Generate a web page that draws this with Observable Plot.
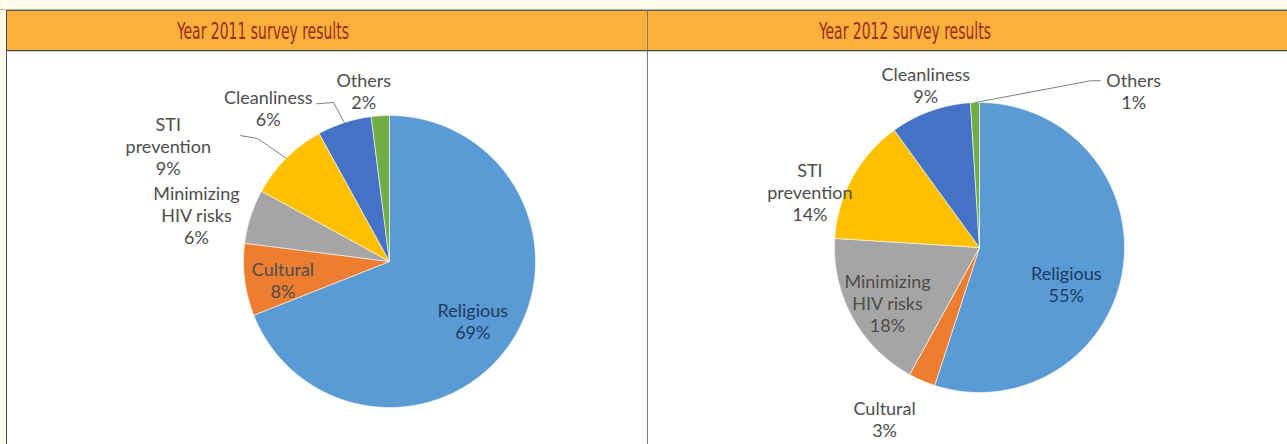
<!DOCTYPE html>
<html><head><meta charset="utf-8">
<script src="https://cdn.jsdelivr.net/npm/d3@7"></script>
<script src="https://cdn.jsdelivr.net/npm/@observablehq/plot@0.6"></script>
<style>
html,body{margin:0;padding:0}
body{width:1287px;height:444px;position:relative;overflow:hidden;background:#fffbeb;font-family:Lato,sans-serif}
#top{position:absolute;left:0;top:0;width:1287px;height:9px;border-bottom:1px solid #b8b6aa}
#hdr{position:absolute;left:6px;top:10px;width:1281px;height:39px;background:#fbb03c;border-top:1px solid #5a5a5a;border-bottom:1px solid #4a4a4a;border-left:1px solid #4a4a4a}
#bodyp{position:absolute;left:6px;top:51px;width:1281px;height:393px;background:#fff;border-left:1px solid #4a4a4a;border-top:1px solid #cfcfcf}
#divider{position:absolute;left:647px;top:10px;width:1px;height:434px;background:#7a7a7a}
.ttl{position:absolute;top:12px;height:39px;line-height:39px;color:#9b2b1e;font-family:"Liberation Sans Narrow","DejaVu Sans Condensed","Liberation Sans",sans-serif;font-size:23px;white-space:nowrap;transform-origin:0 50%}
.panel{position:absolute;top:52px}
</style></head>
<body>
<div id="top"></div>
<div id="hdr"></div>
<div id="bodyp"></div>
<div id="divider"></div>
<script>
// ---- data ----
const categories = ["Religious", "Cultural", "Minimizing HIV risks", "STI prevention", "Cleanliness", "Others"];
const labelNames = ["Religious", "Cultural", "Minimizing\nHIV risks", "STI\nprevention", "Cleanliness", "Others"];
const colors = ["#5b9bd5", "#ed7d31", "#a5a5a5", "#ffc000", "#4472c4", "#70ad47"];
const values2011 = [69, 8, 6, 9, 6, 2];
const values2012 = [55, 3, 18, 14, 9, 1];
const titles = ["Year 2011 survey results", "Year 2012 survey results"];

// ---- layout (placement only) ----
const layouts = [
  {left: 7, width: 640, height: 392, cx: 382, cy: 209, r: 146, titleX: 263,
   labels: [[125.4, 0.70], [260.4, 0.74], [283.5, 1.36], [297.6, 1.71], [321.7, 1.34], [351.4, 1.18]],
   leaders: {"Cleanliness": [[335.2, 1.19], [340.6, 1.155]], "STI prevention": [[310.2, 1.336], [312.98, 1.235]]}},
  {left: 648, width: 639, height: 392, cx: 331, cy: 195, r: 145, titleX: 905,
   labels: [[113, 0.65], [209, 1.35], [239, 0.74], [288, 1.23], [341.7, 1.18], [44.5, 1.517]],
   leaders: {"Others": [[35.9, 1.42], [33.6, 1.38]]}}
];
const datasets = [values2011, values2012];

const rad = a => a * Math.PI / 180;
const polar = (a, r) => ({x: r * Math.sin(rad(a)), y: r * Math.cos(rad(a))});

datasets.forEach((values, p) => {
  const L = layouts[p];
  const total = d3.sum(values);
  let acc = 0;
  const pts = [], mids = [];
  values.forEach((v, i) => {
    const a0 = acc / total * 360, a1 = (acc + v) / total * 360;
    acc += v;
    mids.push((a0 + a1) / 2);
    const n = Math.max(2, Math.ceil((a1 - a0) / 0.5));
    pts.push({name: categories[i], x: 0, y: 0});
    for (let k = 0; k <= n; k++) pts.push({name: categories[i], ...polar(a0 + (a1 - a0) * k / n, 1)});
    pts.push({name: categories[i], x: 0, y: 0});
  });
  const labels = values.map((v, i) => ({
    name: categories[i],
    text: labelNames[i] + "\n" + v + "%",
    ...polar(L.labels[i][0], L.labels[i][1])
  }));
  const leaderPts = [];
  Object.entries(L.leaders).forEach(([name, list]) => {
    list.forEach(([a, r]) => leaderPts.push({name, ...polar(a, r)}));
    leaderPts.push({name, ...polar(mids[categories.indexOf(name)], 1)});
  });

  const chart = Plot.plot({
    width: L.width, height: L.height, margin: 0,
    x: {domain: [-L.cx / L.r, (L.width - L.cx) / L.r], axis: null},
    y: {domain: [-(L.height - L.cy) / L.r, L.cy / L.r], axis: null},
    color: {domain: categories, range: colors},
    style: {background: "transparent", overflow: "visible"},
    marks: [
      Plot.line(pts, {x: "x", y: "y", z: "name", fill: "name", stroke: "#ffffff", strokeWidth: 0.6, curve: "linear"}),
      Plot.line(leaderPts, {x: "x", y: "y", z: "name", stroke: "#7f7f7f", strokeWidth: 1, curve: "linear"}),
      Plot.text(labels.filter(d => d.name !== "Religious"), {x: "x", y: "y", text: "text", fontSize: 18, fontFamily: "Lato", lineHeight: 1.22, fill: "#4d4d4d"}),
      Plot.text(labels.filter(d => d.name === "Religious"), {x: "x", y: "y", text: "text", fontSize: 18, fontFamily: "Lato", lineHeight: 1.22, fill: "#1f3a60"})
    ]
  });
  const wrap = document.createElement("div");
  wrap.className = "panel";
  wrap.style.left = L.left + "px";
  wrap.appendChild(chart);
  document.body.appendChild(wrap);

  const t = document.createElement("div");
  t.className = "ttl";
  t.textContent = titles[p];
  document.body.appendChild(t);
  const w = t.getBoundingClientRect().width;
  const s = 172 / w;
  t.style.left = (L.titleX - 86) + "px";
  t.style.transform = `scaleX(${s})`;
});
</script>
</body></html>
